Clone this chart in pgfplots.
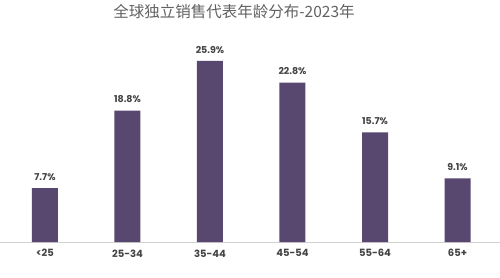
\documentclass[border=0pt]{standalone}
\usepackage{fontspec}
\setmainfont{Poppins}
\newfontfamily\cjk{Noto Sans CJK SC}
\usepackage{pgfplots}
\pgfplotsset{compat=1.18}
\definecolor{barc}{RGB}{88,72,112}
\definecolor{txtc}{RGB}{68,68,68}
\begin{document}
\begin{tikzpicture}
\path[use as bounding box] (0,-36pt) rectangle (500pt,242pt);
\begin{axis}[
  at={(0,0)}, anchor=south west,
  scale only axis, width=500pt, height=202pt,
  xmin=-0.545, xmax=5.515, ymin=0, ymax=28.9,
  axis x line=bottom, axis y line=none,
  axis line style={draw=black!18, line width=1pt, -},
  xtick={0,1,2,3,4,5},
  xticklabels={<25,25-34,35-44,45-54,55-64,65+},
  major tick length=0pt,
  xticklabel style={font=\fontsize{10}{12}\selectfont\bfseries, text=txtc, yshift=-4pt},
  ybar, bar width=26pt,
  /pgf/number format/assume math mode=true,
  nodes near coords={\pgfmathprintnumber[fixed,precision=1,fixed zerofill,assume math mode=true]{\pgfplotspointmeta}\%},
  every node near coord/.append style={font=\fontsize{9.5}{12}\selectfont\bfseries, text=txtc, anchor=south, yshift=4pt},
  clip=false,
]
\addplot[fill=barc, draw=none] coordinates {(0,7.7) (1,18.8) (2,25.9) (3,22.8) (4,15.7) (5,9.1)};
\end{axis}
\node[font=\cjk\fontsize{15.5}{18}\selectfont, text=black!62] at (234pt,230pt) {全球独立销售代表年龄分布-2023年};
\end{tikzpicture}
\end{document}
